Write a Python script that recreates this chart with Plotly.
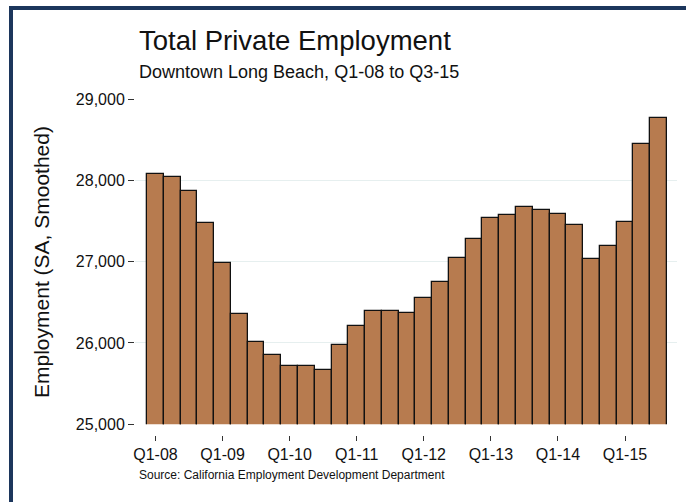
import plotly.graph_objects as go

quarters = [f"Q{q}-{y:02d}" for y in range(8, 16) for q in range(1, 5)][:31]
employment = [28078, 28037, 27872, 27479, 26979, 26359, 26015, 25855, 25720, 25712,
              25671, 25970, 26212, 26389, 26392, 26372, 26552, 26749, 27044, 27278,
              27532, 27573, 27668, 27640, 27589, 27450, 27032, 27188, 27483, 28443, 28763]
x_tick_labels = ["Q1-08", "Q1-09", "Q1-10", "Q1-11", "Q1-12", "Q1-13", "Q1-14", "Q1-15"]
y_tick_values = [25000, 26000, 27000, 28000, 29000]

W, H = 686, 502
L, R, T, B = 135, 9, 99, 67
pw, ph = W - L - R, H - T - B
def px(x): return (x - L) / pw
def py(y): return (H - B - y) / ph

FONT = "Liberation Sans, Arial, Helvetica, sans-serif"

fig = go.Figure(go.Bar(
    x=quarters, y=employment,
    marker=dict(color="#b77b4f", line=dict(color="#111111", width=1.3)),
))

fig.update_layout(
    width=W, height=H,
    margin=dict(l=L, r=R, t=T, b=B),
    paper_bgcolor="white", plot_bgcolor="white",
    bargap=0, showlegend=False,
    font=dict(family=FONT, color="#111111"),
    xaxis=dict(
        type="category", categoryorder="array", categoryarray=quarters,
        range=[-1.22, 31.1],
        tickmode="array", tickvals=x_tick_labels, ticktext=x_tick_labels,
        ticks="outside", ticklen=5, tickcolor="#333333", tickwidth=1,
        showline=False, showgrid=False, zeroline=False,
        anchor="free", position=0,
        tickfont=dict(size=16, family=FONT, color="#111111"),
    ),
    yaxis=dict(
        domain=[(H - B - 424.3) / ph, 1],
        range=[25000, 29000],
        tickmode="array", tickvals=y_tick_values,
        tickformat=",d",
        ticks="outside", ticklen=6, tickcolor="#333333", tickwidth=1,
        showline=False, zeroline=False,
        showgrid=True, gridcolor="#e6efef", gridwidth=1.2,
        tickfont=dict(size=16, family=FONT, color="#111111"),
    ),
    annotations=[
        dict(text="Total Private Employment", xref="paper", yref="paper",
             x=px(137), y=py(41), xanchor="left", yanchor="middle", showarrow=False,
             font=dict(size=27.5, family=FONT, color="#111111")),
        dict(text="Downtown Long Beach, Q1-08 to Q3-15", xref="paper", yref="paper",
             x=px(137), y=py(72), xanchor="left", yanchor="middle", showarrow=False,
             font=dict(size=18, family=FONT, color="#111111")),
        dict(text="Employment (SA, Smoothed)", xref="paper", yref="paper",
             x=px(41), y=py(262), xanchor="center", yanchor="middle", showarrow=False,
             textangle=-90, font=dict(size=21, family=FONT, color="#111111")),
        dict(text="Source: California Employment Development Department", xref="paper", yref="paper",
             x=px(137), y=py(475), xanchor="left", yanchor="middle", showarrow=False,
             font=dict(size=12, family=FONT, color="#111111")),
    ],
    shapes=[
        dict(type="rect", xref="paper", yref="paper",
             x0=px(11), x1=px(720), y0=py(8), y1=py(540),
             line=dict(color="#1c365c", width=4), fillcolor="rgba(0,0,0,0)", layer="above"),
    ],
)

fig.write_html("out.html", config={"displayModeBar": False},
               post_script="document.body.style.margin='0';document.body.style.padding='0';")
